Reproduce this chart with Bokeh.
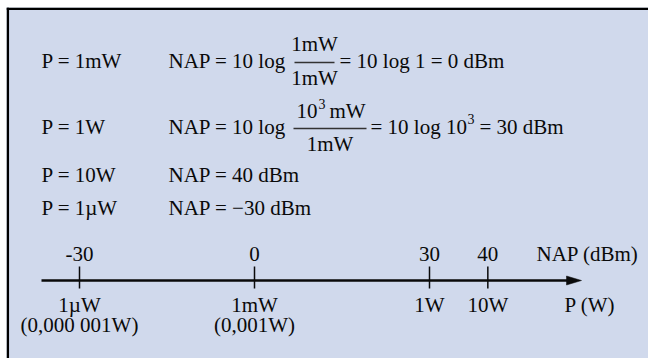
from bokeh.plotting import figure
from bokeh.models import Range1d, ColumnDataSource
from bokeh.embed import file_html
from bokeh.resources import INLINE
from bokeh.core.properties import value

# ---------------- data ----------------
nap_ticks = [-30, 0, 30, 40]
nap_labels = ["-30", "0", "30", "40"]
power_labels = ["1\u00b5W", "1mW", "1W", "10W"]
power_decimal = ["(0,000 001W)", "(0,001W)", "", ""]
power_rows = ["P = 1mW", "P = 1W", "P = 10W", "P = 1\u00b5W"]
nap_rows = ["NAP = 10 log", "NAP = 10 log", "NAP = 40 dBm", "NAP = \u221230 dBm"]
nap_axis_title = "NAP (dBm)"
p_axis_title = "P (W)"

# ---------------- layout ----------------
FONT = value("Liberation Serif")
FS = "21px"
FS_SUP = "14px"
BG = "#d0d9ec"
INK = "#0a0a0a"
PAGE_W, PAGE_H = 648, 358
FX, FY = 6, 7                     # top-left corner of the light box
PX_PER_DB = 175.0 / 30.0
ZERO_X = 254.0
TDY = -6.5                        # baseline correction for text glyphs


def db(px):
    return (px - ZERO_X) / PX_PER_DB


p = figure(width=PAGE_W, height=PAGE_H, output_backend="svg",
           toolbar_location=None,
           x_range=Range1d(db(FX), db(PAGE_W)), y_range=Range1d(PAGE_H, FY),
           min_border_left=FX, min_border_top=FY, min_border_right=0,
           min_border_bottom=0, x_axis_location=None, y_axis_location=None,
           background_fill_color=BG, border_fill_color="white",
           outline_line_color=None)
p.extra_x_ranges = {"px": Range1d(FX, PAGE_W)}
p.grid.visible = False

# frame border (top and left)
p.segment(x0=[FX, 7.3], y0=[8.2, FY], x1=[PAGE_W, 7.3], y1=[8.2, PAGE_H],
          line_color="black", line_width=2.5, line_cap="butt",
          x_range_name="px")


def txt(xs, ys, texts, align="left", fs=FS):
    src = ColumnDataSource(dict(x=xs, y=[v + TDY for v in ys], t=texts))
    p.text(x="x", y="y", text="t", source=src, text_font=FONT,
           text_font_size=fs, text_align=align, text_baseline="alphabetic",
           text_color=INK, x_range_name="px")


rows_y = [67, 133, 181, 214]
txt([41] * 4, rows_y, power_rows)
txt([168] * 4, rows_y, nap_rows)

# row 1 fraction
p.segment(x0=[294, 293], y0=[62, 128], x1=[334, 366], y1=[62, 128],
          line_color="#333333", line_width=1.3, x_range_name="px")
txt([314, 314], [50, 84], ["1mW", "1mW"], align="center")
txt([339], [67], ["= 10 log 1 = 0 dBm"])

# row 2 fraction
txt([296, 329], [117, 117], ["10", "mW"])
txt([318], [110], ["3"], fs=FS_SUP)
txt([329.5], [150], ["1mW"], align="center")
txt([370, 479], [133, 133], ["= 10 log 10", "= 30 dBm"])
txt([467], [125], ["3"], fs=FS_SUP)

# number line
AXIS_Y = 280
p.segment(x0=[41], y0=[AXIS_Y], x1=[570], y1=[AXIS_Y], line_color=INK,
          line_width=2.6, x_range_name="px")
p.patch(x=[566, 581, 566], y=[AXIS_Y - 4.5, AXIS_Y, AXIS_Y + 4.5],
        fill_color=INK, line_color=INK, line_width=0.5, x_range_name="px")
p.segment(x0=nap_ticks, y0=[266] * 4, x1=nap_ticks, y1=[288] * 4,
          line_color=INK, line_width=1.5)

tick_src = ColumnDataSource(dict(x=nap_ticks, top=nap_labels, bot=power_labels,
                                 dec=power_decimal))
for col, yy in (("top", 260), ("bot", 311), ("dec", 331)):
    p.text(x="x", y=yy + TDY, text=col, source=tick_src, text_font=FONT,
           text_font_size=FS, text_align="center", text_baseline="alphabetic",
           text_color=INK)

txt([536], [260], [nap_axis_title])
txt([564], [311], [p_axis_title])

open("out.html", "w").write(file_html(p, INLINE))
